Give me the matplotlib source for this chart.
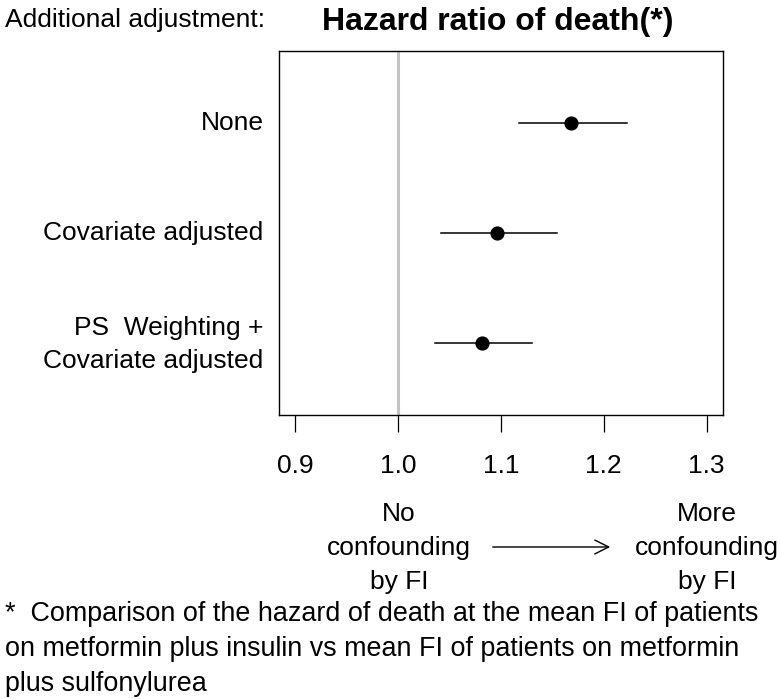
import matplotlib
matplotlib.use("Agg")
import matplotlib.pyplot as plt

plt.rcParams['font.family'] = ['Liberation Sans', 'DejaVu Sans']

labels = ["None", "Covariate adjusted", "PS  Weighting +\nCovariate adjusted"]
hr = [1.1685, 1.0965, 1.0815]
lower = [1.1175, 1.042, 1.036]
upper = [1.223, 1.1545, 1.130]
ypos = [3, 2, 1]
xticks = [0.9, 1.0, 1.1, 1.2, 1.3]
xticklabels = ["0.9", "1.0", "1.1", "1.2", "1.3"]

W, H = 780, 699
fig = plt.figure(figsize=(W / 100, H / 100), dpi=100)
ax = fig.add_axes([279 / W, 1 - 415 / H, (723 - 279) / W, (415 - 50.7) / H])

ax.axvline(1.0, color="#c4c4c4", lw=2.2, zorder=1)
for y, m, lo, hi in zip(ypos, hr, lower, upper):
    ax.plot([lo, hi], [y, y], color="black", lw=1.1, zorder=2)
    ax.plot([m], [y], "o", color="black", ms=9.2, zorder=3)

ax.set_xlim(0.884, 1.316)
ax.set_ylim(0.345, 3.655)
ax.set_xticks(xticks)
ax.set_xticklabels(xticklabels, fontsize=19)
ax.set_yticks([])
ax.tick_params(axis="x", length=12, width=0.9, pad=16)
for s in ax.spines.values():
    s.set_linewidth(1.0)

for y, lab in zip(ypos, labels):
    yy = y - (0.015 if "\n" in lab else 0)
    ax.text(-0.035, (yy - 0.345) / (3.655 - 0.345), lab, transform=ax.transAxes,
            ha="right", va="center", fontsize=19, linespacing=1.45)

def ftext(x, y, s, **kw):
    fig.text(x / W, 1 - y / H, s, **kw)

ftext(5, 20, "Additional adjustment:", ha="left", va="center", fontsize=19)
ftext(498, 22, "Hazard ratio of death(*)", ha="center", va="center",
      fontsize=23.0, fontweight="bold")

ftext(399, 548, "No\nconfounding\nby FI", ha="center", va="center",
      fontsize=19, linespacing=1.55)
ftext(707, 548, "More\nconfounding\nby FI", ha="center", va="center",
      fontsize=19, linespacing=1.55)
fig.add_artist(matplotlib.patches.FancyArrowPatch(
    (490 / W, 1 - 547 / H), (613 / W, 1 - 547 / H), transform=fig.transFigure,
    arrowstyle="->,head_length=10,head_width=5", lw=1.0, color="black",
    mutation_scale=1))

ftext(5, 649, "*  Comparison of the hazard of death at the mean FI of patients\n"
      "on metformin plus insulin vs mean FI of patients on metformin\n"
      "plus sulfonylurea", ha="left", va="center", fontsize=19.4, linespacing=1.45)

fig.savefig("out.png", dpi=100)
